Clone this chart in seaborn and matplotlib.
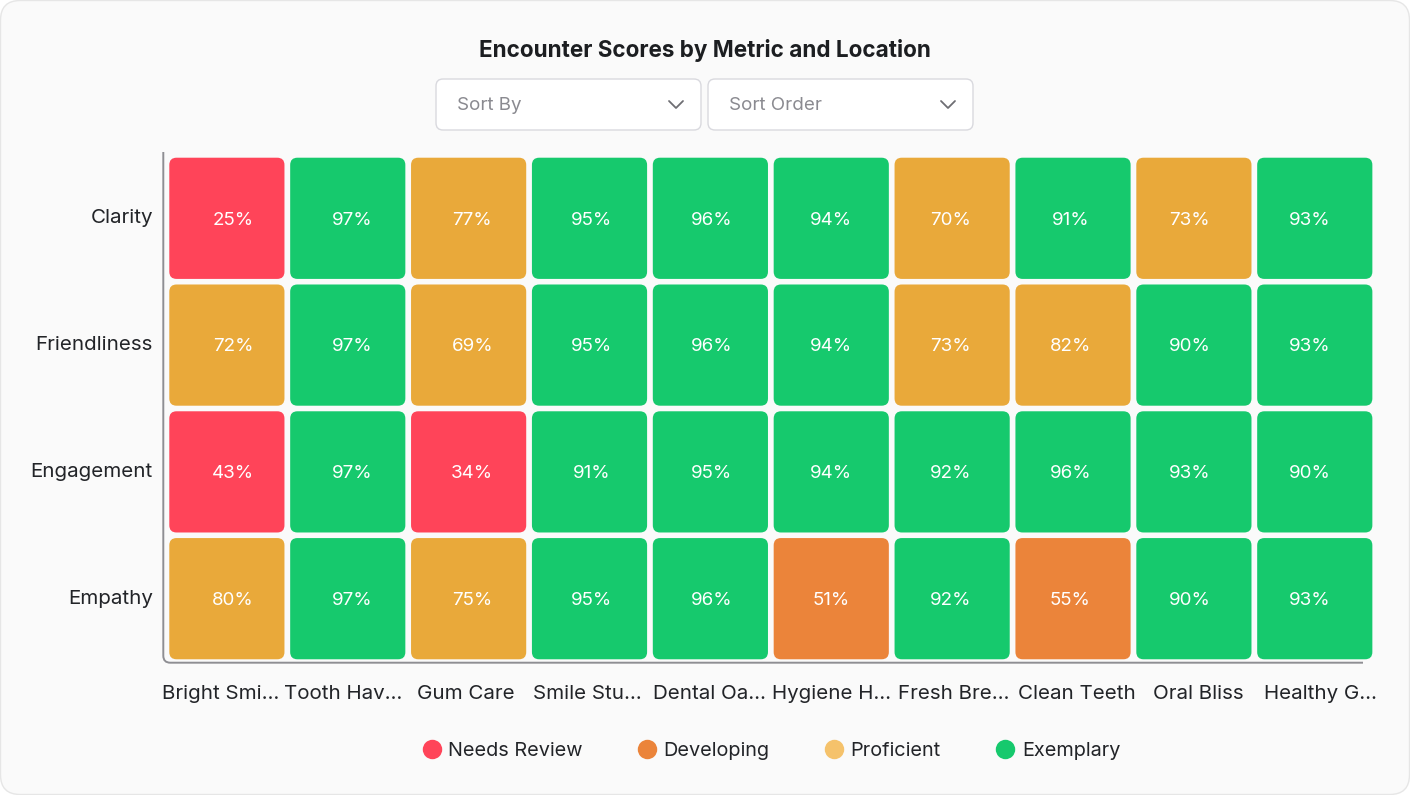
import numpy as np
import pandas as pd
import seaborn as sns
import matplotlib
matplotlib.use("Agg")
import matplotlib.pyplot as plt
from matplotlib.colors import ListedColormap
from matplotlib.patches import FancyBboxPatch, PathPatch
from matplotlib.path import Path
from matplotlib.lines import Line2D

# ---------------- data ----------------
metrics = ["Clarity", "Friendliness", "Engagement", "Empathy"]
locations = ["Bright Smi…", "Tooth Hav…", "Gum Care", "Smile Stu…", "Dental Oa…",
             "Hygiene H…", "Fresh Bre…", "Clean Teeth", "Oral Bliss", "Healthy G…"]
clarity      = [25, 97, 77, 95, 96, 94, 70, 91, 73, 93]
friendliness = [72, 97, 69, 95, 96, 94, 73, 82, 90, 93]
engagement   = [43, 97, 34, 91, 95, 94, 92, 96, 93, 90]
empathy      = [80, 97, 75, 95, 96, 51, 92, 55, 90, 93]
level_names = ["Needs Review", "Developing", "Proficient", "Exemplary"]
level_edges = [0, 50, 65, 90, 101]

cell_colors = ["#FF4459", "#EB843A", "#E9A93A", "#16C96D"]
legend_colors = ["#FF4459", "#EB843A", "#F5C26B", "#16C96D"]

sns.set_theme(style="white")
plt.rcParams["font.family"] = ["Inter", "DejaVu Sans"]

scores = pd.DataFrame([clarity, friendliness, engagement, empathy],
                      index=metrics, columns=locations)
levels = scores.apply(lambda col: pd.cut(col, bins=level_edges, right=False,
                                         labels=False)).astype(int)
annot = scores.map(lambda v: f"{v}%")

W, H = 1410, 795
fig = plt.figure(figsize=(W / 100, H / 100), dpi=100)
fig.patch.set_facecolor("white")
card = FancyBboxPatch((0.5 / W, 0.5 / H), 1 - 1 / W, 1 - 1 / H,
                      boxstyle="round,pad=0,rounding_size=0.014",
                      mutation_aspect=W / H,
                      transform=fig.transFigure, facecolor="#FAFAFA",
                      edgecolor="#E6E6E6", lw=1, zorder=-10)
fig.patches.append(card)

# axes placement (pixel measurements)
ax_l, ax_r, ax_t, ax_b = 163.3, 1363, 152, 662.7
ax = fig.add_axes([ax_l / W, 1 - ax_b / H, (ax_r - ax_l) / W, (ax_b - ax_t) / H])
ax.set_facecolor("none")

cmap = ListedColormap(cell_colors)
sns.heatmap(levels, ax=ax, cmap=cmap, vmin=-0.5, vmax=3.5, cbar=False,
            annot=annot, fmt="", annot_kws={"color": "white", "fontsize": 13.5})

mesh = ax.collections[0]
mesh.set_visible(False)
gx, gy = 0.0236, 0.022
for i in range(len(metrics)):
    for j in range(len(locations)):
        col = mesh.cmap(mesh.norm(levels.iloc[i, j]))
        p = FancyBboxPatch((j + gx, i + gy), 1 - 2 * gx, 1 - 2 * gy,
                           boxstyle="round,pad=0,rounding_size=0.06",
                           mutation_aspect=120.87 / 126.8,
                           facecolor=col, edgecolor="none", clip_on=False, zorder=1)
        ax.add_patch(p)
for t in ax.texts:
    x, y = t.get_position()
    j = int(x)
    t.set_position((x + 0.0506 - 0.0105 * j, y + 0.014))
    t.set_zorder(3)

ax.set_xlim(-0.026, 9.899)
ax.set_ylim(4.005, -0.023)
for s in ax.spines.values():
    s.set_visible(False)

# axis line with rounded corner
rx, ry = 7 / (ax_r - ax_l), 7 / (ax_b - ax_t)
verts = [(0, 1), (0, ry), (0, 0), (rx, 0), (1, 0)]
codes = [Path.MOVETO, Path.LINETO, Path.CURVE3, Path.CURVE3, Path.LINETO]
ax.add_patch(PathPatch(Path(verts, codes), transform=ax.transAxes, fill=False,
                       edgecolor="#8E8E93", lw=1.4, clip_on=False, zorder=2))

xt = [j + 0.5 - 0.0487 + 0.011 * j for j in range(len(locations))]
ax.set_xticks(xt)
ax.tick_params(axis="both", length=0, labelsize=14.8, colors="#222428")
ax.tick_params(axis="y", pad=7.5)
ax.tick_params(axis="x", pad=16)
ax.set_xticklabels(locations, rotation=0)
ax.set_yticklabels(metrics, rotation=0)
ax.set_xlabel("")
ax.set_ylabel("")

# title
fig.text(705 / W, 1 - 50.5 / H, "Encounter Scores by Metric and Location",
         ha="center", va="center", fontsize=16.2, fontweight="bold", color="#1C1E21")

# dropdowns
for x0, x1, label in [(436, 701, "Sort By"), (708, 973, "Sort Order")]:
    y0, y1 = 79, 130
    box = FancyBboxPatch((x0 / W, 1 - y1 / H), (x1 - x0) / W, (y1 - y0) / H,
                         boxstyle="round,pad=0,rounding_size=0.005",
                         mutation_aspect=W / H, transform=fig.transFigure,
                         facecolor="white", edgecolor="#D9D9DE", lw=1)
    fig.patches.append(box)
    fig.text((x0 + 21) / W, 1 - 105 / H, label, ha="left", va="center",
             fontsize=13.5, color="#8A8A90")
    cx, cy = x1 - 25, 104.5
    fig.lines.append(Line2D([(cx - 7) / W, cx / W, (cx + 7) / W],
                            [1 - (cy - 3.5) / H, 1 - (cy + 3.5) / H, 1 - (cy - 3.5) / H],
                            transform=fig.transFigure, color="#6E6E73", lw=1.3))

# legend
handles = [Line2D([], [], marker="o", ls="", markersize=14,
                  markerfacecolor=c, markeredgecolor="none") for c in legend_colors]
fig.legend(handles, level_names, loc="center", bbox_to_anchor=(771 / W, 1 - 750.5 / H),
           ncol=4, frameon=False, fontsize=14.3, handletextpad=0.33,
           columnspacing=2.75, handlelength=1.0, labelcolor="#222428")

fig.savefig("out.png", dpi=100, facecolor=fig.get_facecolor())
